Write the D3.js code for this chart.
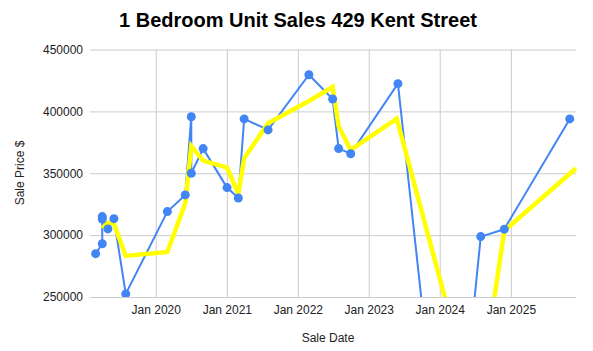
<!DOCTYPE html>
<html>
<head>
<meta charset="utf-8">
<script src="https://cdn.jsdelivr.net/npm/d3@7"></script>
<style>
  body { margin: 0; background: #fff; }
  svg { display: block; font-family: Arial, "Liberation Sans", sans-serif; }
</style>
</head>
<body>
<svg id="drawing_region"></svg>
<script>
// sale data
const saleDates = ['2019-02-26', '2019-04-01', '2019-04-01', '2019-04-01', '2019-04-30', '2019-05-31',
    '2019-07-31', '2020-03-01', '2020-06-01', '2020-07-02', '2020-07-02', '2020-09-01',
    '2021-01-02', '2021-03-01', '2021-03-31', '2021-08-01', '2022-02-27', '2022-06-29',
    '2022-07-30', '2022-09-30', '2023-05-31', '2024-02-18', '2024-07-30', '2024-11-28', '2025-10-31'];
const salePrices = [285000, 293000, 315000, 313000, 305000, 313300,
    252500, 319000, 332500, 395700, 350000, 369900,
    338400, 330000, 393900, 385000, 429600, 410000,
    369900, 365800, 422400, 43500, 298800, 304800, 393900];

// yellow trend line
const trendDates = ['2019-04-01', '2019-04-30', '2019-05-31', '2019-07-31', '2020-03-01', '2020-06-01',
    '2020-07-02', '2020-09-01', '2021-01-02', '2021-03-01', '2021-03-31', '2021-08-01',
    '2022-02-27', '2022-06-29', '2022-07-30', '2022-09-30', '2023-05-25', '2024-07-10',
    '2024-11-28', '2025-12-02'];
const trendPrices = [305600, 310000, 309300, 283200, 286400, 325800,
    372000, 360200, 354500, 333300, 362100, 390400,
    408400, 419700, 388200, 368800, 394100, 153500,
    303600, 354000];

const yTicks = [250000, 300000, 350000, 400000, 450000];
const xTickYears = [2020, 2021, 2022, 2023, 2024, 2025];

const config = {
    width: 593,
    height: 351,
    margin: {top: 49.5, right: 17, bottom: 54, left: 90},
    title: '1 Bedroom Unit Sales 429 Kent Street',
    xlabel: 'Sale Date',
    ylabel: 'Sale Price $'
};

const parse = d3.timeParse('%Y-%m-%d');
const sales = saleDates.map((d, i) => ({date: parse(d), value: salePrices[i]}));
const trend = trendDates.map((d, i) => ({date: parse(d), value: trendPrices[i]}));

const svg = d3.select('#drawing_region')
    .attr('width', config.width)
    .attr('height', config.height);

const inner_width = config.width - config.margin.left - config.margin.right;
const inner_height = config.height - config.margin.top - config.margin.bottom;

const chart = svg.append('g')
    .attr('transform', `translate(${config.margin.left}, ${config.margin.top})`);

const ext = d3.extent(sales, d => d.date);
const xscale = d3.scaleTime()
    .domain([d3.timeDay.offset(ext[0], -29), d3.timeDay.offset(ext[1], 32)])
    .range([0, inner_width]);
const yscale = d3.scaleLinear()
    .domain([250000, 450000])
    .range([inner_height, 0]);

// grid lines
const xticks = xTickYears.map(y => new Date(y, 0, 1));
chart.append('g')
    .call(d3.axisBottom(xscale).tickValues(xticks).tickSize(inner_height).tickFormat(''))
    .call(g => g.select('.domain').remove())
    .call(g => g.selectAll('line').attr('stroke', '#cccccc'));
chart.append('g')
    .call(d3.axisLeft(yscale).tickValues(yTicks).tickSize(-inner_width).tickFormat(''))
    .call(g => g.select('.domain').remove())
    .call(g => g.selectAll('line').attr('stroke', '#cccccc'));

// tick labels
const xaxis_group = chart.append('g')
    .attr('transform', `translate(0, ${inner_height})`)
    .call(d3.axisBottom(xscale).tickValues(xticks).tickSize(0).tickPadding(8)
        .tickFormat(d3.timeFormat('Jan %Y')));
xaxis_group.select('.domain').remove();
xaxis_group.selectAll('text')
    .attr('font-size', '12px').attr('font-family', 'Arial, "Liberation Sans", sans-serif')
    .attr('fill', '#222');

const yaxis_group = chart.append('g')
    .call(d3.axisLeft(yscale).tickValues(yTicks).tickSize(0).tickPadding(7)
        .tickFormat(d3.format('d')));
yaxis_group.select('.domain').remove();
yaxis_group.selectAll('text')
    .attr('font-size', '12px').attr('font-family', 'Arial, "Liberation Sans", sans-serif')
    .attr('fill', '#222');

// clip
svg.append('clipPath').attr('id', 'plot_clip')
    .append('rect')
    .attr('x', -1).attr('y', -1)
    .attr('width', inner_width + 2).attr('height', inner_height + 1);

const plot = chart.append('g').attr('clip-path', 'url(#plot_clip)');

const line = d3.line()
    .x(d => xscale(d.date))
    .y(d => yscale(d.value));

plot.append('path')
    .datum(sales)
    .attr('fill', 'none')
    .attr('stroke', '#4285f4')
    .attr('stroke-width', 2)
    .attr('stroke-linejoin', 'round')
    .attr('d', line);

plot.append('path')
    .datum(trend)
    .attr('fill', 'none')
    .attr('stroke', '#ffff00')
    .attr('stroke-width', 4.5)
    .attr('stroke-linejoin', 'miter')
    .attr('d', line);

plot.selectAll('circle')
    .data(sales)
    .enter()
    .append('circle')
    .attr('cx', d => xscale(d.date))
    .attr('cy', d => yscale(d.value))
    .attr('r', 4.5)
    .attr('fill', '#4285f4');

// title and labels
svg.append('text')
    .attr('x', 298)
    .attr('y', 27)
    .attr('text-anchor', 'middle')
    .style('font-size', '20px')
    .style('font-weight', 'bold')
    .attr('fill', '#000')
    .text(config.title);

svg.append('text')
    .attr('x', 328)
    .attr('y', 342)
    .attr('text-anchor', 'middle')
    .style('font-size', '12px')
    .attr('fill', '#222')
    .text(config.xlabel);

svg.append('text')
    .attr('transform', 'rotate(-90)')
    .attr('x', -173)
    .attr('y', 24)
    .attr('text-anchor', 'middle')
    .style('font-size', '12px')
    .attr('fill', '#222')
    .text(config.ylabel);
</script>
</body>
</html>
